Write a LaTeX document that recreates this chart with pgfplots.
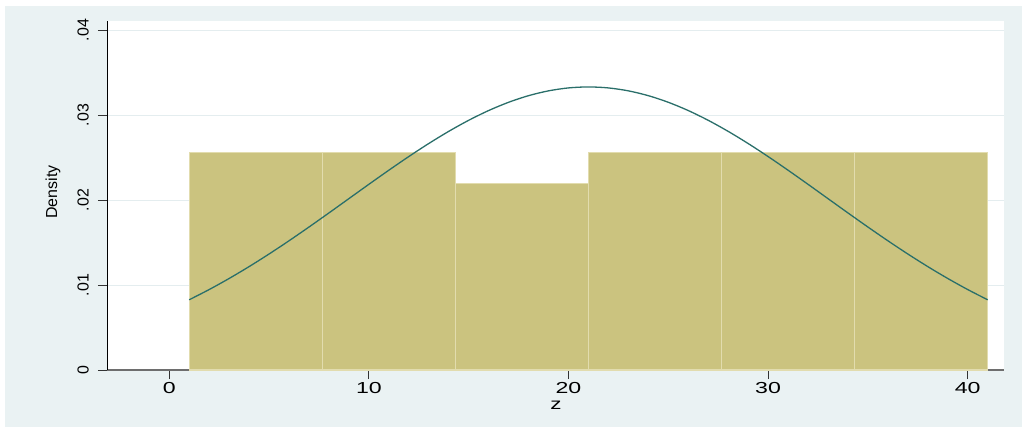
\documentclass[border=0pt]{standalone}
\usepackage{pgfplots}
\pgfplotsset{compat=1.18}
\usepackage{fontspec}
\setmainfont{Liberation Sans}

\definecolor{bgcol}{HTML}{EAF2F3}
\definecolor{barfill}{HTML}{CBC37F}
\definecolor{baredge}{HTML}{E2DCAE}
\definecolor{curve}{HTML}{2A6F6A}
\definecolor{gridcol}{HTML}{E4EDEF}
\definecolor{xaxcol}{HTML}{6E6E6E}

\begin{document}
\begin{tikzpicture}[x=1bp,y=1bp]
  % page and graph region
  \fill[white] (0,0) rectangle (1022,427);
  \fill[bgcol] (5,0) rectangle (1022,421);
  \begin{axis}[
    at={(107bp,57bp)}, anchor=south west,
    scale only axis, width=897bp, height=349bp,
    xmin=-3.12, xmax=41.82, ymin=0, ymax=0.04106,
    axis background/.style={fill=white},
    axis x line*=bottom, axis y line*=left,
    x axis line style={draw=xaxcol, line width=1.2bp, -},
    y axis line style={draw=black, line width=0.9bp, -},
    xtick={0,10,20,30,40},
    ytick={0,0.01,0.02,0.03,0.04},
    yticklabels={0,.01,.02,.03,.04},
    scaled y ticks=false,
    tick align=outside, major tick length=9bp,
    tick style={draw=black!80, line width=0.8bp},
    ymajorgrids, grid style={draw=gridcol, line width=0.9bp},
    /pgf/number format/assume math mode=true,
    xticklabel style={font=\fontsize{16}{16}\selectfont, anchor=north, inner sep=0pt, yshift=-3bp, xscale=1.45},
    yticklabel style={font=\fontsize{16}{16}\selectfont, xshift=-9bp, rotate=90, anchor=south, inner sep=0pt},
    xlabel={z}, ylabel={Density},
    every axis x label/.style={at={(axis description cs:0.5006,-0.1)}, anchor=center, inner sep=0pt, font=\fontsize{16}{16}\selectfont, xscale=1.4},
    every axis y label/.style={at={(axis description cs:-0.0602,0.51)}, rotate=90, anchor=center, font=\fontsize{16}{16}\selectfont},
    clip=false,
  ]
    % histogram of z, 6 bins of width 20/3
    \addplot[ybar interval, fill=barfill, draw=baredge, line width=1.4bp] coordinates {
      (1,0.025610) (7.6667,0.025610) (14.3333,0.021951)
      (21,0.025610) (27.6667,0.025610) (34.3333,0.025610) (41,0.025610)
    };
    % normal density, mean 21, sd 11.98
    \addplot[curve, line width=1.3bp, smooth] coordinates {
      (1,0.008264) (2,0.009467) (3,0.010770) (4,0.012166) (5,0.013649)
      (6,0.015206) (7,0.016823) (8,0.018482) (9,0.020164) (10,0.021847)
      (11,0.023505) (12,0.025114) (13,0.026646) (14,0.028076) (15,0.029377)
      (16,0.030525) (17,0.031497) (18,0.032275) (19,0.032842) (20,0.033187)
      (21,0.033303)
      (22,0.033187) (23,0.032842) (24,0.032275) (25,0.031497) (26,0.030525)
      (27,0.029377) (28,0.028076) (29,0.026646) (30,0.025114) (31,0.023505)
      (32,0.021847) (33,0.020164) (34,0.018482) (35,0.016823) (36,0.015206)
      (37,0.013649) (38,0.012166) (39,0.010770) (40,0.009467) (41,0.008264)
    };
  \end{axis}
\end{tikzpicture}
\end{document}
